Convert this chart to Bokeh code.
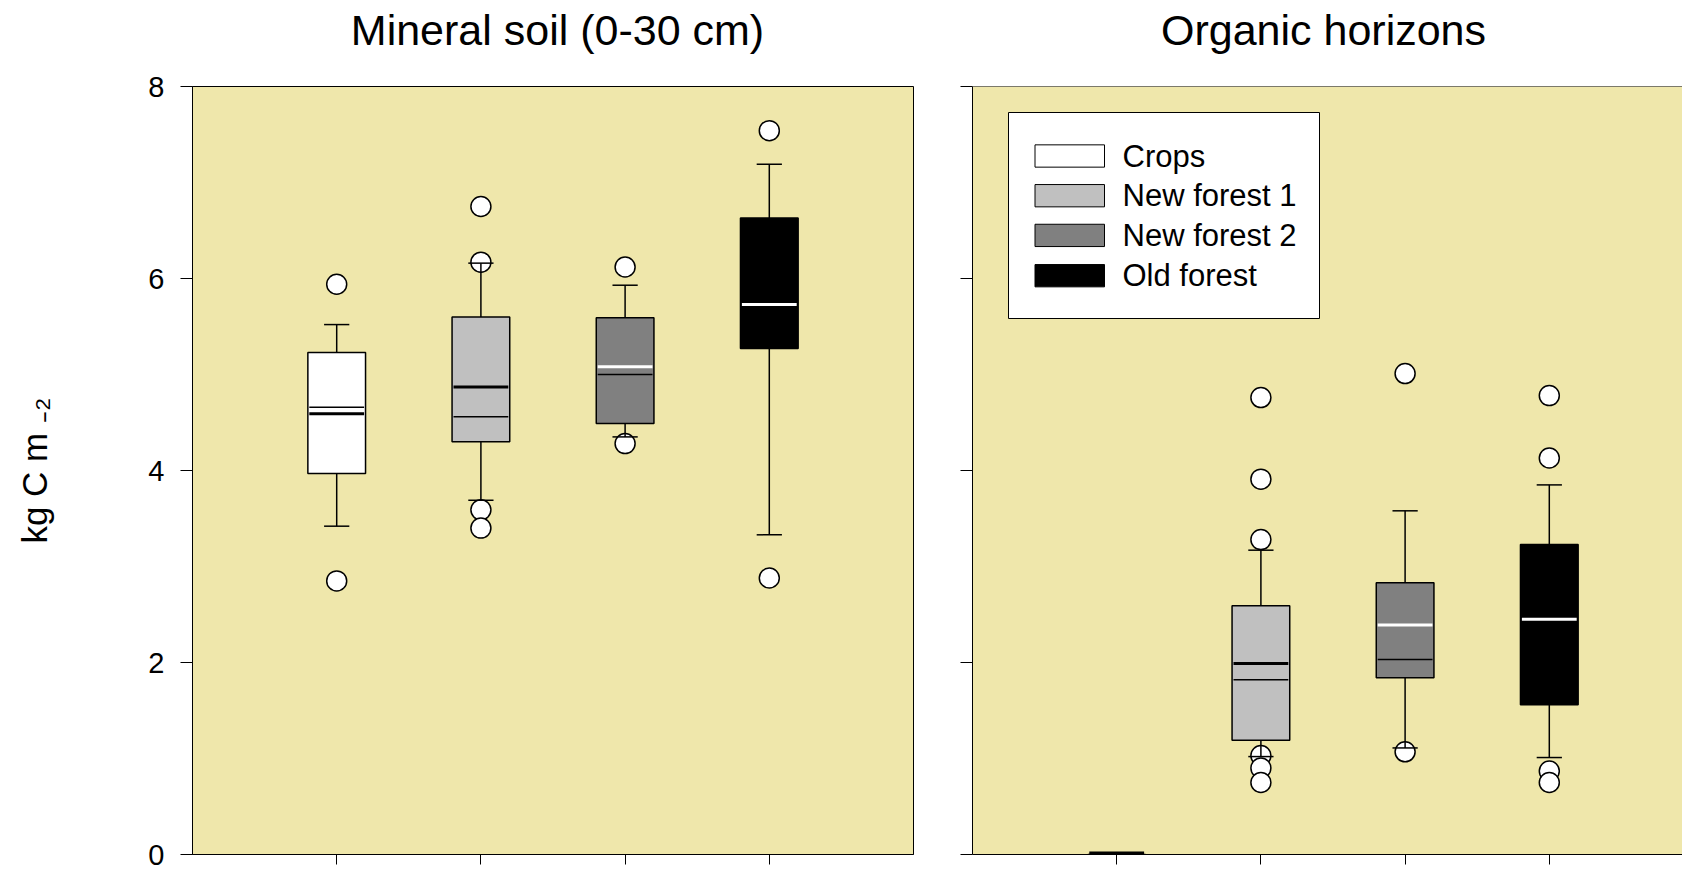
from bokeh.plotting import figure
from bokeh.models import Range1d, FixedTicker, ColumnDataSource, Span
from bokeh.layouts import row, column
from bokeh.embed import file_html
from bokeh.resources import INLINE
from bokeh.core.properties import value

# ---------------- data ----------------
groups = ["Crops", "New forest 1", "New forest 2", "Old forest"]
fill_colors = ["#FFFFFF", "#C0C0C0", "#808080", "#000000"]
mean_colors = ["#000000", "#000000", "#FFFFFF", "#FFFFFF"]
panel_titles = ["Mineral soil (0-30 cm)", "Organic horizons"]
y_label = "kg C m \u208b\u2082"

# Mineral soil (0-30 cm)
min_q1 = [3.97, 4.30, 4.49, 5.27]
min_q3 = [5.23, 5.60, 5.59, 6.63]
min_median = [4.66, 4.56, 5.00, 5.73]
min_mean = [4.59, 4.87, 5.08, 5.73]
min_wlo = [3.42, 3.69, 4.35, 3.33]
min_whi = [5.52, 6.16, 5.93, 7.19]
min_out = [[5.94, 2.85], [6.75, 6.17, 3.59, 3.40], [6.12, 4.28], [7.54, 2.88]]

# Organic horizons
org_q1 = [0.0, 1.19, 1.84, 1.56]
org_q3 = [0.0, 2.59, 2.83, 3.23]
org_median = [0.0, 1.82, 2.03, 2.45]
org_mean = [0.0, 1.99, 2.39, 2.45]
org_wlo = [0.0, 1.02, 1.11, 1.01]
org_whi = [0.0, 3.17, 3.58, 3.85]
org_out = [[], [4.76, 3.91, 3.28, 1.03, 0.90, 0.75], [5.01, 1.07], [4.78, 4.13, 0.87, 0.75]]

y_ticks = [0, 2, 4, 6, 8]
x_ticks = [1, 2, 3, 4]

# ---------------- styling / layout ----------------
FONT = "Liberation Sans"
BG = "#EFE7AB"
BOX_W = 0.4
CAP_W = 0.175
PXU = 144.2   # px per x unit
PYU = 96.0    # px per y unit
FRAME_TOP = 86
FRAME_BOT = 854
TITLE_H = 66
FIG1_W = 923
FIG2_W = 1682 - FIG1_W
TITLE_BASELINE = 29


def dx2(px):
    return (px - 972) / PXU


def dy(py):
    return (FRAME_BOT - py) / PYU


def title_fig(w, text, cx):
    t = figure(width=w, height=TITLE_H, x_range=Range1d(0, w), y_range=Range1d(0, TITLE_H),
               output_backend="svg", toolbar_location=None, title=None,
               x_axis_type=None, y_axis_type=None,
               min_border_left=0, min_border_right=0, min_border_top=0, min_border_bottom=0,
               background_fill_color="white", border_fill_color="white",
               outline_line_color=None)
    t.grid.visible = False
    t.text(x=[cx], y=[TITLE_H - TITLE_BASELINE], text=[text], text_align="center",
           text_baseline="alphabetic", text_font=value(FONT), text_font_size="43px",
           text_color="black")
    return t


def make_fig(x_end, frame_w, left_border, right_border, show_labels):
    p = figure(frame_width=frame_w, frame_height=FRAME_BOT - FRAME_TOP,
               x_range=Range1d(0, x_end), y_range=Range1d(0, 8),
               output_backend="svg", toolbar_location=None, title=None,
               min_border_left=left_border, min_border_right=right_border,
               min_border_top=FRAME_TOP - TITLE_H, min_border_bottom=15,
               background_fill_color=BG, border_fill_color="white")
    p.grid.visible = False
    ya = p.yaxis[0]
    ya.ticker = FixedTicker(ticks=y_ticks, minor_ticks=[])
    ya.major_tick_out = 12
    ya.major_tick_in = 0
    ya.minor_tick_out = 0
    ya.axis_line_color = "black"
    ya.major_tick_line_color = "black"
    if show_labels:
        ya.major_label_text_font = FONT
        ya.major_label_text_font_size = "29px"
        ya.major_label_text_color = "black"
        ya.major_label_standoff = 16
    else:
        ya.major_label_overrides = {t: "" for t in y_ticks}
        ya.major_label_text_font_size = "1px"
        ya.major_label_standoff = 0
    xa = p.xaxis[0]
    xa.ticker = FixedTicker(ticks=x_ticks, minor_ticks=[])
    xa.major_tick_out = 10
    xa.major_tick_in = 0
    xa.minor_tick_out = 0
    xa.major_label_overrides = {t: "" for t in x_ticks}
    xa.major_label_text_font_size = "1px"
    xa.major_label_standoff = 0
    xa.axis_line_color = "black"
    xa.major_tick_line_color = "black"
    return p


def draw_panel(p, q1, q3, med, mean, wlo, whi, outs):
    xs = x_ticks
    src = ColumnDataSource(dict(
        x=xs, q1=q1, q3=q3, med=med, mean=mean, wlo=wlo, whi=whi,
        fill=fill_colors, mc=mean_colors,
        mw=[6 if a == b else 3 for a, b in zip(q1, q3)],
        bx0=[x - BOX_W / 2 + 0.01 for x in xs], bx1=[x + BOX_W / 2 - 0.01 for x in xs],
        cx0=[x - CAP_W / 2 for x in xs], cx1=[x + CAP_W / 2 for x in xs]))
    ox = [xs[i] for i, o in enumerate(outs) for _ in o]
    oy = [v for o in outs for v in o]
    p.scatter(ox, oy, size=20, marker="circle", fill_color="white",
              line_color="black", line_width=1.5)
    p.segment(x0="x", y0="q3", x1="x", y1="whi", source=src, line_color="black", line_width=1.5)
    p.segment(x0="x", y0="q1", x1="x", y1="wlo", source=src, line_color="black", line_width=1.5)
    p.segment(x0="cx0", y0="whi", x1="cx1", y1="whi", source=src, line_color="black", line_width=1.5)
    p.segment(x0="cx0", y0="wlo", x1="cx1", y1="wlo", source=src, line_color="black", line_width=1.5)
    p.vbar(x="x", width=BOX_W, top="q3", bottom="q1", source=src,
           fill_color="fill", line_color="black", line_width=1.5)
    p.segment(x0="bx0", y0="med", x1="bx1", y1="med", source=src, line_color="black", line_width=1.5)
    p.segment(x0="bx0", y0="mean", x1="bx1", y1="mean", source=src, line_color="mc", line_width="mw")


# ---------------- left panel ----------------
t1 = title_fig(FIG1_W, panel_titles[0], 557)
p1 = make_fig(5, 721, 192, 10, True)
p1.outline_line_color = "black"
p1.outline_line_width = 1
p1.yaxis[0].axis_label = y_label
p1.yaxis[0].axis_label_text_font = FONT
p1.yaxis[0].axis_label_text_font_size = "35px"
p1.yaxis[0].axis_label_text_font_style = "normal"
p1.yaxis[0].axis_label_text_color = "black"
p1.yaxis[0].axis_label_standoff = 91
draw_panel(p1, min_q1, min_q3, min_median, min_mean, min_wlo, min_whi, min_out)

# ---------------- right panel ----------------
t2 = title_fig(FIG2_W, panel_titles[1], 1323 - FIG1_W)
frame2_w = 1682 - 972
p2 = make_fig(frame2_w / PXU, frame2_w, 972 - FIG1_W, 0, False)
p2.outline_line_color = None
p2.add_layout(Span(location=8, dimension="width", line_color="black", line_width=1))
draw_panel(p2, org_q1, org_q3, org_median, org_mean, org_wlo, org_whi, org_out)

# legend (drawn manually)
p2.quad(left=[dx2(1008)], right=[dx2(1319)], top=[dy(112)], bottom=[dy(318)],
        fill_color="white", line_color="black", line_width=1)
row_px = [155.5, 195.2, 234.9, 275.2]
row_y = [dy(v) for v in row_px]
sw_h = 22.3 / PYU
p2.quad(left=[dx2(1034.5)] * 4, right=[dx2(1104)] * 4,
        top=[y + sw_h / 2 for y in row_y], bottom=[y - sw_h / 2 for y in row_y],
        fill_color=fill_colors, line_color="black", line_width=1)
p2.text(x=[dx2(1122)] * 4, y=row_y, text=groups, text_baseline="middle",
        text_align="left", text_font=value(FONT), text_font_size="31px",
        text_color="black")

layout = column(row(t1, t2), row(p1, p2))
open("out.html", "w").write(file_html(layout, INLINE))
